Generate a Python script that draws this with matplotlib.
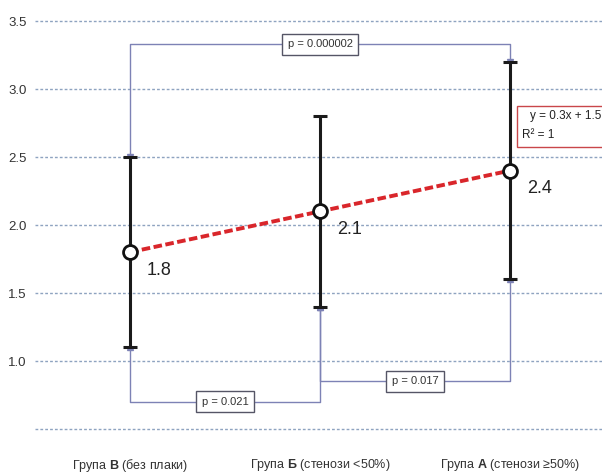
import matplotlib
matplotlib.use("Agg")
import matplotlib.pyplot as plt
from matplotlib import font_manager
from matplotlib.patches import Rectangle
import matplotlib.transforms as mtransforms

# groups and their mean values with error range
group_names = ["Група $\\mathbf{В}$ (без плаки)",
               "Група $\\mathbf{Б}$ (стенози <50%)",
               "Група $\\mathbf{А}$ (стенози ≥50%)"]
means = [1.8, 2.1, 2.4]
lower = [1.1, 1.4, 1.6]
upper = [2.5, 2.8, 3.2]

# linear trend
slope = 0.3
intercept = 1.5
r2 = 1

# pairwise comparisons: (group i, group j, p-value)
p_pairs = [(0, 2, "0.000002"), (0, 1, "0.021"), (1, 2, "0.017")]
bracket_levels = [3.33, 0.7, 0.85]

y_ticks = [1.0, 1.5, 2.0, 2.5, 3.0, 3.5]

names = {f.name for f in font_manager.fontManager.ttflist}
font = "Liberation Sans Narrow" if "Liberation Sans Narrow" in names else "Liberation Sans"
plt.rcParams["font.family"] = [font, "DejaVu Sans"]
plt.rcParams["mathtext.fontset"] = "custom"
plt.rcParams["mathtext.rm"] = font
plt.rcParams["mathtext.bf"] = font + ":bold"

W, H = 602, 475
fig = plt.figure(figsize=(W / 100, H / 100), dpi=100)
ax = fig.add_axes([35 / W, (H - 429) / H, (W - 35) / W, (429 - 21) / H])
x = [1, 2, 3]
ax.set_xlim(0.5, 0.5 + (W - 35) / 190)
ax.set_ylim(0.5, 3.5)
for s in ax.spines.values():
    s.set_visible(False)

# dotted horizontal grid
for yv in [0.5] + y_ticks:
    ax.axhline(yv, color="#8ea3c0", lw=1, ls=(0, (2, 1.5)), zorder=0, clip_on=False)

ax.set_xticks([])
ax.set_yticks(y_ticks)
ax.set_yticklabels([f"{v:.1f}" for v in y_ticks], fontsize=9.5, color="#333333")
ax.tick_params(axis="y", length=0, pad=6)

# error bars
err_lo = [m - l for m, l in zip(means, lower)]
err_hi = [u - m for m, u in zip(means, upper)]
ax.errorbar(x, means, yerr=[err_lo, err_hi], fmt="none", ecolor="#1a1a1a",
            elinewidth=2.2, capsize=5, capthick=2.2, zorder=3)

# trend line through the group means
trend = [slope * xi + intercept for xi in x]
ax.plot(x, trend, color="#d9262b", lw=2.8, ls=(0, (2.2, 0.9)), zorder=4)
ax.plot(x, means, ls="none", marker="o", ms=10, mfc="white", mec="#111111",
        mew=2, zorder=5)

for xi, m in zip(x, means):
    ax.annotate(f"{m}", (xi, m), xytext=(12, -13), textcoords="offset points",
                fontsize=13, color="#222222", ha="left", va="center")

# significance brackets
line_c = "#7d82b5"
for (i, j, p), lvl in zip(p_pairs, bracket_levels):
    xi, xj = x[i], x[j]
    if lvl > upper[i]:
        yi, yj, mk = upper[i], upper[j], "v"
    else:
        yi, yj, mk = lower[i], lower[j], "^"
    ax.plot([xi, xi, xj, xj], [yi, lvl, lvl, yj], color=line_c, lw=1, zorder=2)
    ax.plot([xi, xj], [yi, yj], ls="none", marker=mk, ms=4, color=line_c, zorder=2)
    ax.text((xi + xj) / 2, lvl, f"p = {p}", fontsize=8, color="#333333",
            ha="center", va="center", zorder=6,
            bbox=dict(boxstyle="square,pad=0.5", fc="white", ec="#555566", lw=1))

# regression equation in a red frame running off the right edge
ax.add_patch(Rectangle((3.037, 2.573), 0.6, 0.30, fc="white", ec="#c9474a",
                       lw=1, zorder=5, clip_on=False))
ax.text(3.105, 2.8, f"y = {slope}x + {intercept}", fontsize=8.5,
        color="#222222", ha="left", va="center", zorder=6)
ax.text(3.063, 2.66, f"R² = {r2}", fontsize=8.5,
        color="#222222", ha="left", va="center", zorder=6)

# group labels under the plot
trans = mtransforms.blended_transform_factory(ax.transData, ax.transAxes)
for xi, name in zip(x, group_names):
    ax.text(xi, -36 / 408, name, transform=trans, fontsize=9, color="#333333",
            ha="center", va="center")

fig.savefig("out.png", dpi=100)
